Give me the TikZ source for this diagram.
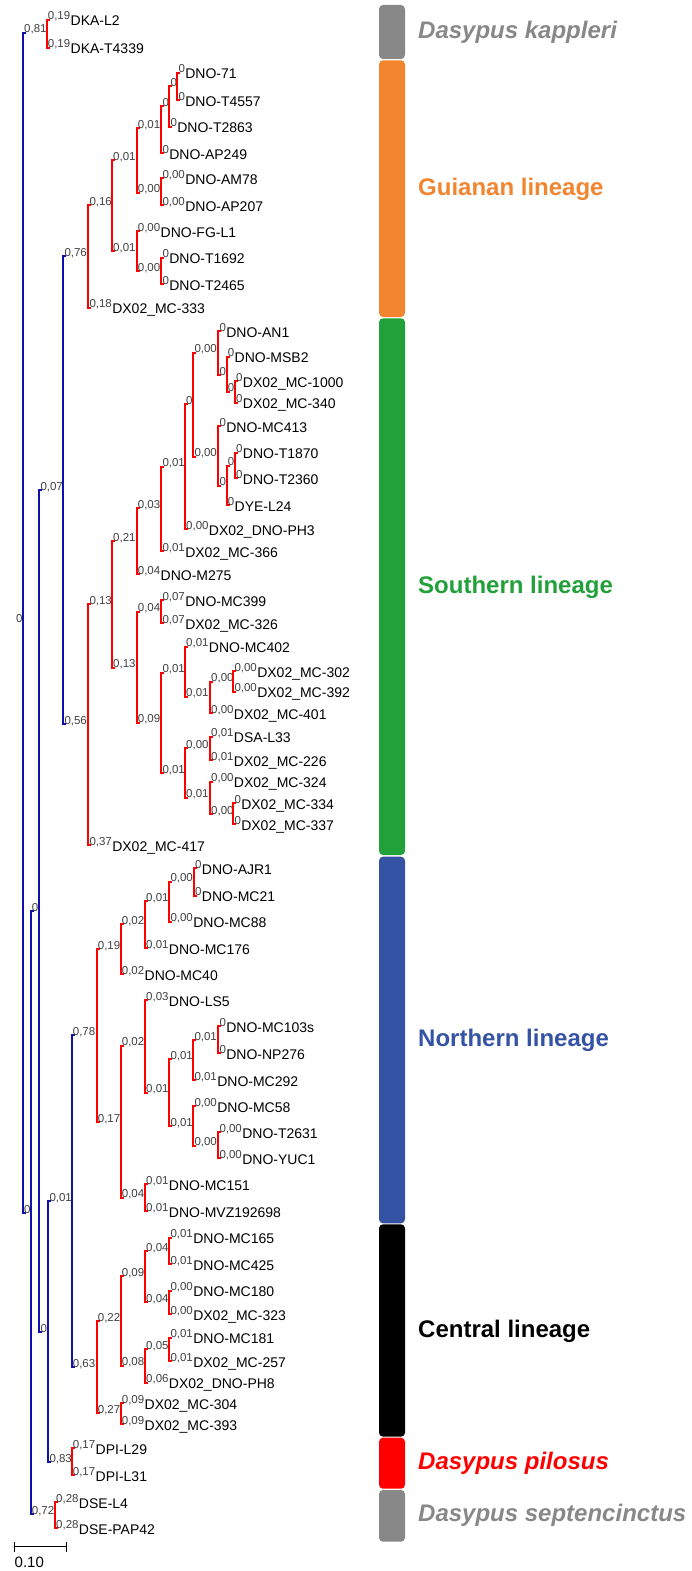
\documentclass[tikz,border=0pt]{standalone}
\usepackage{fontspec}
\setmainfont{Liberation Sans}
\definecolor{treered}{RGB}{255,0,0}
\definecolor{treeblue}{RGB}{16,16,176}
\definecolor{labgrey}{RGB}{64,64,64}
\definecolor{kapgrey}{RGB}{136,136,136}
\definecolor{guiorange}{RGB}{242,133,48}
\definecolor{southgreen}{RGB}{34,160,58}
\definecolor{northblue}{RGB}{53,83,165}
\definecolor{pilred}{RGB}{255,0,0}

% #1 name, #2 style, #3 x, #4 top y, #5 bottom y, #6 top value, #7 bottom value
\newcommand\clade[7]{%
  \draw[#2] (#3+3,-#4) -- (#3,-#4) -- (#3,-#5) -- (#3+3,-#5);
  \node[blab] (#1t) at (#3+1,-#4) {#6};
  \node[blab] (#1b) at (#3+1,-#5) {#7};
}
% taxon name written after a value label
\newcommand\tipof[2]{\node[tipname] at ([yshift=-6pt]#1.base east) {#2};}

\begin{document}
\begin{tikzpicture}[x=1pt,y=1pt,line join=miter,
  red/.style={draw=treered,line width=2.2pt},
  blue/.style={draw=treeblue,line width=2.2pt},
  blab/.style={anchor=base west,inner sep=0pt,font=\fontsize{11.5}{12}\selectfont,text=labgrey},
  tipname/.style={anchor=base west,inner sep=0pt,font=\fontsize{14}{15}\selectfont,text=black},
  grouplab/.style={anchor=base west,inner sep=0pt}]
\useasboundingbox (0,0) rectangle (691,-1571);

% ---------- backbone ----------
\node[blab] (root) at (16,-622) {0};
\clade{b1}{blue}{23}{33}{1213}{0,81}{0}
\clade{b2}{blue}{30.7}{911}{1514}{0}{0,72}
\clade{b3}{blue}{39.3}{490}{1332}{0,07}{0}
\clade{b4}{blue}{63.3}{256}{724}{0,76}{0,56}
\clade{b5}{blue}{48.3}{1201}{1462}{0,01}{0,83}
\clade{b6}{blue}{71.7}{1035}{1367}{0,78}{0,63}

% ---------- D. kappleri ----------
\clade{k}{red}{46.7}{20}{47.7}{0,19}{0,19}
\tipof{kt}{DKA-L2}\tipof{kb}{DKA-T4339}

% ---------- Guianan lineage ----------
\clade{g1}{red}{88.3}{205}{307.7}{0,16}{0,18}
\tipof{g1b}{DX02\_MC-333}
\clade{g2}{red}{112}{160}{251}{0,01}{0,01}
\clade{g3}{red}{136.7}{128.3}{192.7}{0,01}{0,00}
\clade{g4}{red}{161.3}{106}{153}{0}{0}
\tipof{g4b}{DNO-AP249}
\clade{g5}{red}{169.3}{86}{126.7}{0}{0}
\tipof{g5b}{DNO-T2863}
\clade{g6}{red}{177.3}{72.7}{100}{0}{0}
\tipof{g6t}{DNO-71}\tipof{g6b}{DNO-T4557}
\clade{g7}{red}{161.3}{178.3}{205}{0,00}{0,00}
\tipof{g7t}{DNO-AM78}\tipof{g7b}{DNO-AP207}
\clade{g8}{red}{136.7}{231}{271}{0,00}{0,00}
\tipof{g8t}{DNO-FG-L1}
\clade{g9}{red}{161.3}{257.7}{284.3}{0}{0}
\tipof{g9t}{DNO-T1692}\tipof{g9b}{DNO-T2465}

% ---------- Southern lineage ----------
\clade{s1}{red}{88.3}{604.3}{845}{0,13}{0,37}
\tipof{s1b}{DX02\_MC-417}
\clade{s2}{red}{112}{541}{667.7}{0,21}{0,13}
\clade{s3}{red}{136.7}{508.3}{574.3}{0,03}{0,04}
\tipof{s3b}{DNO-M275}
\clade{s4}{red}{161.3}{466.7}{551}{0,01}{0,01}
\tipof{s4b}{DX02\_MC-366}
\clade{s5}{red}{185}{404.3}{529.3}{0}{0,00}
\tipof{s5b}{DX02\_DNO-PH3}
\clade{s6}{red}{193.3}{352.7}{456.7}{0,00}{0,00}
\clade{s7}{red}{218.3}{331}{375}{0}{0}
\tipof{s7t}{DNO-AN1}
\clade{s8}{red}{226.7}{356.7}{391.7}{0}{0}
\tipof{s8t}{DNO-MSB2}
\clade{s9}{red}{235}{381}{402.7}{0}{0}
\tipof{s9t}{DX02\_MC-1000}\tipof{s9b}{DX02\_MC-340}
\clade{s10}{red}{218.3}{426}{485.7}{0}{0}
\tipof{s10t}{DNO-MC413}
\clade{s11}{red}{226.7}{465.7}{505}{0}{0}
\tipof{s11b}{DYE-L24}
\clade{s12}{red}{235}{452.7}{478.3}{0}{0}
\tipof{s12t}{DNO-T1870}\tipof{s12b}{DNO-T2360}
\clade{s13}{red}{136.7}{611.7}{722.7}{0,04}{0,09}
\clade{s14}{red}{161.3}{600}{623.3}{0,07}{0,07}
\tipof{s14t}{DNO-MC399}\tipof{s14b}{DX02\_MC-326}
\clade{s15}{red}{161.3}{672.7}{773.3}{0,01}{0,01}
\clade{s16}{red}{185}{646.7}{696.7}{0,01}{0,01}
\tipof{s16t}{DNO-MC402}
\clade{s17}{red}{210}{681.7}{713.3}{0,00}{0,00}
\tipof{s17b}{DX02\_MC-401}
\clade{s18}{red}{233.3}{671}{691.7}{0,00}{0,00}
\tipof{s18t}{DX02\_MC-302}\tipof{s18b}{DX02\_MC-392}
\clade{s19}{red}{185}{748.3}{797.7}{0,00}{0,01}
\clade{s20}{red}{210}{736.7}{760}{0,01}{0,01}
\tipof{s20t}{DSA-L33}\tipof{s20b}{DX02\_MC-226}
\clade{s21}{red}{210}{781.7}{814.3}{0,00}{0,00}
\tipof{s21t}{DX02\_MC-324}
\clade{s22}{red}{233.3}{803.3}{824.3}{0}{0}
\tipof{s22t}{DX02\_MC-334}\tipof{s22b}{DX02\_MC-337}

% ---------- Northern lineage ----------
\clade{n1}{red}{96.7}{949}{1122.3}{0,19}{0,17}
\clade{n2}{red}{120.7}{924}{974.3}{0,02}{0,02}
\tipof{n2b}{DNO-MC40}
\clade{n3}{red}{145}{901}{948.3}{0,01}{0,01}
\tipof{n3b}{DNO-MC176}
\clade{n4}{red}{169.3}{881.7}{921.7}{0,00}{0,00}
\tipof{n4b}{DNO-MC88}
\clade{n5}{red}{194}{868.3}{895.7}{0}{0}
\tipof{n5t}{DNO-AJR1}\tipof{n5b}{DNO-MC21}
\clade{n6}{red}{120.7}{1045.7}{1197.7}{0,02}{0,04}
\clade{n7}{red}{145}{1000}{1092.7}{0,03}{0,01}
\tipof{n7t}{DNO-LS5}
\clade{n8}{red}{169.3}{1059.3}{1126}{0,01}{0,01}
\clade{n9}{red}{193.3}{1040}{1080}{0,01}{0,01}
\tipof{n9b}{DNO-MC292}
\clade{n10}{red}{218.3}{1026}{1053.3}{0}{0}
\tipof{n10t}{DNO-MC103s}\tipof{n10b}{DNO-NP276}
\clade{n11}{red}{193.3}{1106}{1145.7}{0,00}{0,00}
\tipof{n11t}{DNO-MC58}
\clade{n12}{red}{218.3}{1132.3}{1158.3}{0,00}{0,00}
\tipof{n12t}{DNO-T2631}\tipof{n12b}{DNO-YUC1}
\clade{n13}{red}{145}{1184.3}{1211}{0,01}{0,01}
\tipof{n13t}{DNO-MC151}\tipof{n13b}{DNO-MVZ192698}

% ---------- Central lineage ----------
\clade{c1}{red}{96.7}{1321}{1413.3}{0,22}{0,27}
\clade{c2}{red}{120.7}{1276}{1365.7}{0,09}{0,08}
\clade{c3}{red}{145}{1251}{1302.3}{0,04}{0,04}
\clade{c4}{red}{169.3}{1237.7}{1264}{0,01}{0,01}
\tipof{c4t}{DNO-MC165}\tipof{c4b}{DNO-MC425}
\clade{c5}{red}{169.3}{1290.7}{1314}{0,00}{0,00}
\tipof{c5t}{DNO-MC180}\tipof{c5b}{DX02\_MC-323}
\clade{c6}{red}{145}{1349}{1382.7}{0,05}{0,06}
\tipof{c6b}{DX02\_DNO-PH8}
\clade{c7}{red}{169.3}{1337.7}{1361}{0,01}{0,01}
\tipof{c7t}{DNO-MC181}\tipof{c7b}{DX02\_MC-257}
\clade{c8}{red}{120.7}{1403.3}{1424.3}{0,09}{0,09}
\tipof{c8t}{DX02\_MC-304}\tipof{c8b}{DX02\_MC-393}

% ---------- D. pilosus and D. septencinctus ----------
\clade{p}{red}{71.7}{1448}{1475}{0,17}{0,17}
\tipof{pt}{DPI-L29}\tipof{pb}{DPI-L31}
\clade{e}{red}{55}{1502}{1528}{0,28}{0,28}
\tipof{et}{DSE-L4}\tipof{eb}{DSE-PAP42}

% ---------- scale bar ----------
\coordinate (sbl) at (14,-1546.7);
\coordinate (sbr) at (66.7,-1546.7);
\draw[line width=1pt] ([yshift=5pt]sbl) -- ([yshift=-5pt]sbl) (sbl) -- (sbr) ([yshift=5pt]sbr) -- ([yshift=-5pt]sbr);
\node[anchor=base west,inner sep=0pt,font=\fontsize{15}{16}\selectfont] (sblab) at (14.5,-1567) {0.10};

% ---------- group bars ----------
\tikzset{gb/.style={font=\fontsize{24}{26}\selectfont\bfseries}, gbi/.style={font=\fontsize{24}{26}\selectfont\bfseries\itshape}}
\fill[kapgrey,rounded corners=4pt] (379,-5) rectangle (405,-59);
\fill[guiorange,rounded corners=4pt] (379,-60.3) rectangle (405,-317);
\fill[southgreen,rounded corners=4pt] (379,-318.3) rectangle (405,-855);
\fill[northblue,rounded corners=4pt] (379,-856.7) rectangle (405,-1223.3);
\fill[black,rounded corners=4pt] (379,-1224.3) rectangle (405,-1436.7);
\fill[pilred,rounded corners=4pt] (379,-1437.7) rectangle (405,-1488.7);
\fill[kapgrey,rounded corners=4pt] (379,-1490) rectangle (405,-1541.7);

\node[grouplab,gbi,text=kapgrey] (lkap) at (418,-38.3) {Dasypus kappleri};
\node[grouplab,gb,text=guiorange] (lgui) at (418,-195) {Guianan lineage};
\node[grouplab,gb,text=southgreen] (lsou) at (418,-593.5) {Southern lineage};
\node[grouplab,gb,text=northblue] (lnor) at (418,-1046.7) {Northern lineage};
\node[grouplab,gb,text=black] (lcen) at (418,-1337.3) {Central lineage};
\node[grouplab,gbi,text=pilred] (lpil) at (418,-1469.3) {Dasypus pilosus};
\node[grouplab,gbi,text=kapgrey] (lsep) at (418,-1521.7) {Dasypus septencinctus};
\end{tikzpicture}
\end{document}
